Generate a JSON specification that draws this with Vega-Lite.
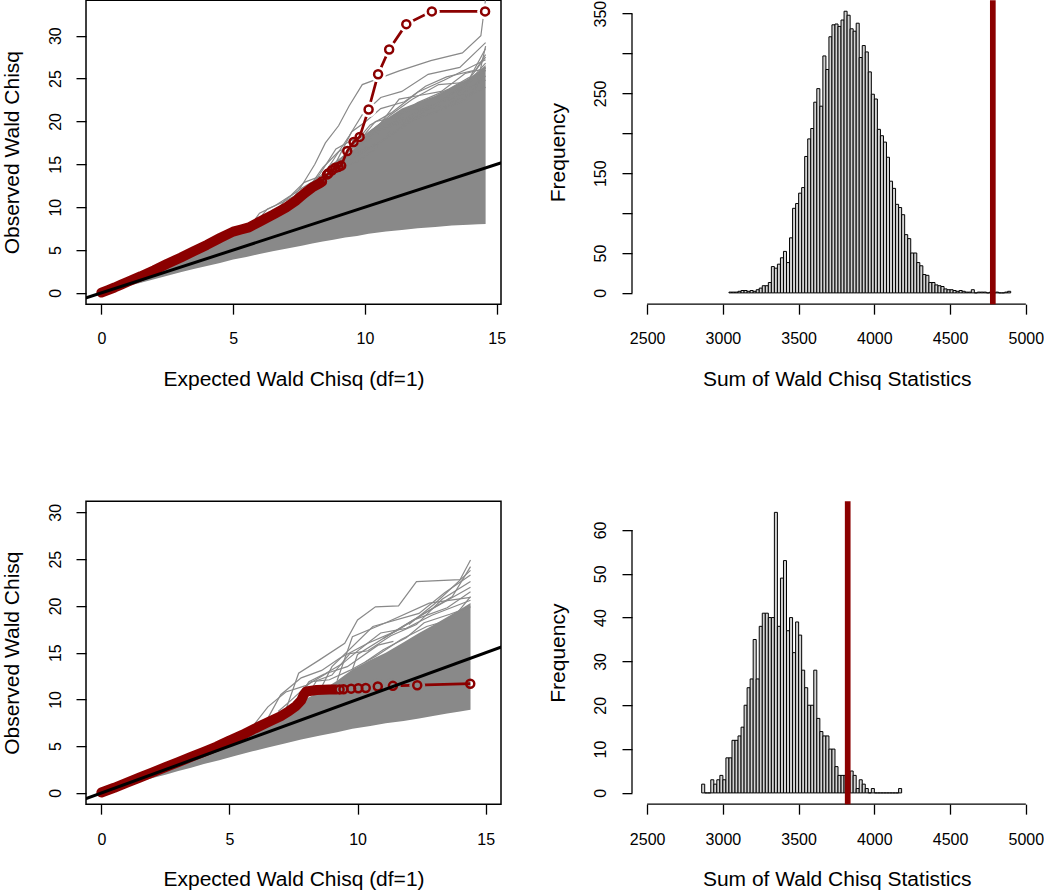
{
  "$schema": "https://vega.github.io/schema/vega-lite/v6.json",
  "background": "white",
  "padding": {"left": 0, "top": -2.85, "right": 0, "bottom": 0},
  "autosize": {"type": "pad"},
  "columns": 2,
  "spacing": {"row": 197, "column": 131},
  "bounds": "flush",
  "config": {
    "font": "Liberation Sans",
    "view": {"stroke": null},
    "axis": {
      "labelFont": "Liberation Sans", "titleFont": "Liberation Sans",
      "labelFontSize": 16, "titleFontSize": 21, "titleFontWeight": "normal",
      "labelColor": "black", "titleColor": "black",
      "tickColor": "black", "tickWidth": 1.3, "tickSize": 10,
      "grid": false, "domain": false, "labelFlush": false, "labelOverlap": false,
      "labelBaseline": "alphabetic", "titleBaseline": "alphabetic", "titleAlign": "center"
    }
  },
  "datasets": {
    "diag": [{"x": -2, "y": -2}, {"x": 17, "y": 17}],
    "tl_band": [
      {"x":0,"y":0,"y2":0},{"x":0.5,"y":0.4,"y2":0.65},{"x":1,"y":0.8,"y2":1.3},{"x":1.5,"y":1.2,"y2":1.95},
      {"x":2,"y":1.6,"y2":2.6},{"x":2.5,"y":2.0,"y2":3.2},{"x":3,"y":2.4,"y2":3.85},{"x":3.5,"y":2.8,"y2":4.5},
      {"x":4,"y":3.15,"y2":5.2},{"x":4.5,"y":3.5,"y2":6.0},{"x":5,"y":3.9,"y2":6.8},{"x":5.5,"y":4.2,"y2":7.5},
      {"x":6,"y":4.55,"y2":8.3},{"x":6.5,"y":4.85,"y2":9.1},{"x":7,"y":5.15,"y2":9.9},{"x":7.6,"y":5.5,"y2":10.9},
      {"x":8,"y":5.75,"y2":12.0},{"x":8.4,"y":6.0,"y2":13.2},{"x":8.8,"y":6.2,"y2":14.5},{"x":9.25,"y":6.45,"y2":15.8},
      {"x":9.7,"y":6.65,"y2":17.2},{"x":10.14,"y":6.9,"y2":18.8},{"x":10.8,"y":7.15,"y2":20.3},{"x":11.4,"y":7.35,"y2":21.5},
      {"x":12,"y":7.55,"y2":22.2},{"x":12.67,"y":7.7,"y2":23.0},{"x":13.3,"y":7.85,"y2":24.0},{"x":13.93,"y":7.95,"y2":25.0},
      {"x":14.3,"y":8.0,"y2":25.8},{"x":14.58,"y":8.05,"y2":26.6}
    ],
    "tl_sim": [
      {"id":"L1","x":7.0,"y":9.8},{"id":"L1","x":7.6,"y":12.5},{"id":"L1","x":8.1,"y":15.0},{"id":"L1","x":8.5,"y":17.5},{"id":"L1","x":9.0,"y":19.5},{"id":"L1","x":9.4,"y":21.8},{"id":"L1","x":9.9,"y":24.3},{"id":"L1","x":11.3,"y":25.9},{"id":"L1","x":12.5,"y":27.1},{"id":"L1","x":13.7,"y":28.0},{"id":"L1","x":14.4,"y":30.0},{"id":"L1","x":14.58,"y":34.3},
      {"id":"L2","x":8.0,"y":11.8},{"id":"L2","x":8.8,"y":15.5},{"id":"L2","x":9.4,"y":18.3},{"id":"L2","x":9.9,"y":20.8},{"id":"L2","x":10.6,"y":22.8},{"id":"L2","x":11.4,"y":23.5},{"id":"L2","x":12.4,"y":25.5},{"id":"L2","x":13.6,"y":26.3},{"id":"L2","x":14.58,"y":29.2},
      {"id":"L3","x":8.6,"y":13.5},{"id":"L3","x":9.2,"y":16.0},{"id":"L3","x":9.8,"y":17.8},{"id":"L3","x":10.4,"y":20.0},{"id":"L3","x":11.2,"y":20.5},{"id":"L3","x":12.0,"y":22.2},{"id":"L3","x":13.2,"y":23.8},{"id":"L3","x":14.0,"y":25.2},{"id":"L3","x":14.58,"y":28.5},
      {"id":"L4","x":8.0,"y":12.0},{"id":"L4","x":8.5,"y":14.2},{"id":"L4","x":9.0,"y":15.5},{"id":"L4","x":9.6,"y":17.0},{"id":"L4","x":10.5,"y":18.5},{"id":"L4","x":11.6,"y":21.2},{"id":"L4","x":12.7,"y":22.0},{"id":"L4","x":13.8,"y":24.3},{"id":"L4","x":14.58,"y":27.5},
      {"id":"L5","x":6.5,"y":9.1},{"id":"L5","x":7.0,"y":10.9},{"id":"L5","x":7.6,"y":12.2},{"id":"L5","x":8.2,"y":13.3},{"id":"L5","x":8.8,"y":14.0},{"id":"L5","x":9.3,"y":15.4},{"id":"L5","x":9.8,"y":16.2},{"id":"L5","x":10.8,"y":18.0},{"id":"L5","x":11.9,"y":20.3},{"id":"L5","x":13.0,"y":21.5},{"id":"L5","x":14.58,"y":25.3},
      {"id":"L6","x":9.6,"y":17.0},{"id":"L6","x":10.0,"y":18.0},{"id":"L6","x":11.0,"y":19.8},{"id":"L6","x":12.2,"y":21.4},{"id":"L6","x":13.4,"y":22.8},{"id":"L6","x":14.58,"y":26.8},
      {"id":"L7","x":5.6,"y":7.6},{"id":"L7","x":6.0,"y":9.3},{"id":"L7","x":6.6,"y":10.2},{"id":"L7","x":7.2,"y":11.4},{"id":"L7","x":7.7,"y":12.9},{"id":"L7","x":8.3,"y":13.6},{"id":"L7","x":8.9,"y":15.0},{"id":"L7","x":9.5,"y":16.2},{"id":"L7","x":10.0,"y":16.5},
      {"id":"L8","x":5.8,"y":8.0},{"id":"L8","x":6.3,"y":9.8},{"id":"L8","x":6.9,"y":10.6},{"id":"L8","x":7.5,"y":11.6},{"id":"L8","x":8.0,"y":12.1},{"id":"L8","x":8.6,"y":13.1},{"id":"L8","x":9.1,"y":14.6},{"id":"L8","x":9.7,"y":15.3},{"id":"L8","x":10.4,"y":16.8},{"id":"L8","x":11.0,"y":19.0},
      {"id":"L9","x":11.0,"y":19.5},{"id":"L9","x":11.5,"y":19.8},{"id":"L9","x":12.5,"y":21.6},{"id":"L9","x":13.5,"y":23.5},{"id":"L9","x":14.58,"y":24.8},
      {"id":"L10","x":10.2,"y":18.8},{"id":"L10","x":10.8,"y":19.2},{"id":"L10","x":12.0,"y":20.8},{"id":"L10","x":13.0,"y":22.6},{"id":"L10","x":14.0,"y":23.2},{"id":"L10","x":14.58,"y":26.0},
      {"id":"L11","x":11.4,"y":21.3},{"id":"L11","x":12.0,"y":21.3},{"id":"L11","x":13.2,"y":21.9},{"id":"L11","x":14.2,"y":23.6},{"id":"L11","x":14.58,"y":28.8},
      {"id":"L12","x":6.8,"y":9.8},{"id":"L12","x":7.3,"y":11.2},{"id":"L12","x":7.9,"y":12.4},{"id":"L12","x":8.4,"y":14.6},{"id":"L12","x":9.0,"y":16.5},{"id":"L12","x":9.6,"y":17.4},{"id":"L12","x":10.2,"y":19.6},{"id":"L12","x":11.0,"y":21.0},{"id":"L12","x":12.0,"y":23.4},{"id":"L12","x":13.0,"y":24.8},{"id":"L12","x":14.58,"y":27.2},
      {"id":"L13","x":7.2,"y":10.4},{"id":"L13","x":7.8,"y":11.7},{"id":"L13","x":8.3,"y":13.9},{"id":"L13","x":8.9,"y":16.8},{"id":"L13","x":9.5,"y":17.8},{"id":"L13","x":10.1,"y":18.5},{"id":"L13","x":10.9,"y":20.6},{"id":"L13","x":11.8,"y":22.6},{"id":"L13","x":12.8,"y":24.3},{"id":"L13","x":14.0,"y":24.6},{"id":"L13","x":14.58,"y":26.3},
      {"id":"L14","x":8.9,"y":15.2},{"id":"L14","x":9.5,"y":18.8},{"id":"L14","x":10.0,"y":19.9},{"id":"L14","x":10.6,"y":21.5},{"id":"L14","x":11.5,"y":22.3},{"id":"L14","x":12.3,"y":24.1},{"id":"L14","x":13.1,"y":25.2},{"id":"L14","x":14.2,"y":26.0},{"id":"L14","x":14.58,"y":27.8},
      {"id":"L15","x":9.9,"y":18.2},{"id":"L15","x":10.6,"y":19.8},{"id":"L15","x":11.3,"y":22.6},{"id":"L15","x":12.0,"y":23.0},{"id":"L15","x":12.9,"y":23.5},{"id":"L15","x":13.8,"y":25.6},{"id":"L15","x":14.58,"y":26.2},
      {"id":"L16","x":7.8,"y":11.2},{"id":"L16","x":8.2,"y":12.8},{"id":"L16","x":8.7,"y":14.9},{"id":"L16","x":9.3,"y":16.0},{"id":"L16","x":9.9,"y":16.8},{"id":"L16","x":10.6,"y":17.6},{"id":"L16","x":11.6,"y":20.0},{"id":"L16","x":12.6,"y":21.0},{"id":"L16","x":13.6,"y":22.2},{"id":"L16","x":14.58,"y":24.0}
    ],
    "tl_obs_band": [
      {"x":0,"y":0.04},{"x":0.25,"y":0.33},{"x":0.5,"y":0.63},{"x":0.75,"y":0.96},{"x":1,"y":1.3},{"x":1.5,"y":1.95},
      {"x":2,"y":2.65},{"x":2.5,"y":3.4},{"x":3,"y":4.1},{"x":3.5,"y":4.85},{"x":4,"y":5.6},{"x":4.5,"y":6.4},
      {"x":5,"y":7.15},{"x":5.3,"y":7.4},{"x":5.6,"y":7.65},{"x":6,"y":8.3},{"x":6.5,"y":9.1},{"x":7,"y":9.95},
      {"x":7.4,"y":10.8},{"x":7.7,"y":11.6},{"x":8.0,"y":12.3},{"x":8.3,"y":12.8}
    ],
    "tl_obs": [
      {"x":8.37,"y":13.0,"w":0},{"x":8.56,"y":13.8,"w":0},{"x":8.62,"y":13.95,"w":0},{"x":8.75,"y":14.3,"w":0},
      {"x":8.88,"y":14.6,"w":0},{"x":9.0,"y":14.7,"w":0},{"x":9.1,"y":14.85,"w":0},{"x":9.33,"y":16.55,"w":0},
      {"x":9.57,"y":17.6,"w":0},{"x":9.8,"y":18.2,"w":0},{"x":10.14,"y":21.4,"w":1},{"x":10.5,"y":25.5,"w":1},
      {"x":10.92,"y":28.4,"w":1},{"x":11.57,"y":31.35,"w":1},{"x":12.54,"y":32.84,"w":1},{"x":14.56,"y":32.84,"w":1}
    ],
    "bl_band": [
      {"x":0,"y":0,"y2":0},{"x":0.5,"y":0.4,"y2":0.6},{"x":1,"y":0.8,"y2":1.2},{"x":1.5,"y":1.2,"y2":1.8},
      {"x":2,"y":1.6,"y2":2.4},{"x":2.5,"y":1.95,"y2":3.0},{"x":3,"y":2.35,"y2":3.55},{"x":3.5,"y":2.7,"y2":4.1},
      {"x":4,"y":3.1,"y2":4.65},{"x":4.6,"y":3.5,"y2":5.3},{"x":5.2,"y":3.95,"y2":6.15},{"x":5.9,"y":4.45,"y2":7.1},
      {"x":6.5,"y":4.85,"y2":8.0},{"x":7.2,"y":5.3,"y2":8.9},{"x":7.8,"y":5.7,"y2":9.8},{"x":8.5,"y":6.1,"y2":10.8},
      {"x":9.2,"y":6.5,"y2":12.0},{"x":9.8,"y":6.85,"y2":13.2},{"x":10.5,"y":7.15,"y2":14.2},{"x":11.1,"y":7.45,"y2":15.0},
      {"x":11.8,"y":7.7,"y2":16.1},{"x":12.4,"y":7.95,"y2":17.1},{"x":13.0,"y":8.25,"y2":18.0},{"x":13.5,"y":8.5,"y2":18.8},
      {"x":14.0,"y":8.7,"y2":19.6},{"x":14.41,"y":8.9,"y2":20.3}
    ],
    "bl_sim": [
      {"id":"a","x":7.2,"y":8.9},{"id":"a","x":7.7,"y":12.8},{"id":"a","x":8.5,"y":14.2},{"id":"a","x":9.5,"y":16.0},{"id":"a","x":10.0,"y":18.5},{"id":"a","x":10.7,"y":19.9},{"id":"a","x":11.6,"y":20.0},{"id":"a","x":12.3,"y":22.6},{"id":"a","x":14.0,"y":22.8},{"id":"a","x":14.41,"y":24.9},
      {"id":"b","x":8.5,"y":10.8},{"id":"b","x":9.0,"y":13.5},{"id":"b","x":10.6,"y":17.8},{"id":"b","x":12.4,"y":19.2},{"id":"b","x":13.4,"y":21.4},{"id":"b","x":14.41,"y":23.3},
      {"id":"c","x":9.2,"y":12.0},{"id":"c","x":9.8,"y":16.7},{"id":"c","x":11.1,"y":18.2},{"id":"c","x":12.8,"y":20.3},{"id":"c","x":14.41,"y":20.9},
      {"id":"d","x":9.8,"y":13.2},{"id":"d","x":10.0,"y":14.8},{"id":"d","x":11.75,"y":17.8},{"id":"d","x":13.7,"y":21.0},{"id":"d","x":14.41,"y":24.2},
      {"id":"e","x":6.5,"y":8.0},{"id":"e","x":7.0,"y":10.5},{"id":"e","x":7.8,"y":12.3},{"id":"e","x":8.6,"y":13.1},{"id":"e","x":9.3,"y":14.4},{"id":"e","x":10.4,"y":16.0},{"id":"e","x":11.5,"y":17.3},{"id":"e","x":12.8,"y":19.5},{"id":"e","x":14.41,"y":22.0},
      {"id":"f","x":5.9,"y":7.1},{"id":"f","x":6.5,"y":9.2},{"id":"f","x":7.2,"y":10.8},{"id":"f","x":8.0,"y":11.5},{"id":"f","x":8.8,"y":12.8},{"id":"f","x":9.6,"y":13.5},{"id":"f","x":10.8,"y":15.8},{"id":"f","x":11.4,"y":16.2},
      {"id":"g","x":11.0,"y":16.5},{"id":"g","x":12.2,"y":18.5},{"id":"g","x":13.5,"y":19.8},{"id":"g","x":14.41,"y":21.5},
      {"id":"h","x":12.0,"y":18.0},{"id":"h","x":13.0,"y":20.2},{"id":"h","x":14.41,"y":23.8},
      {"id":"i","x":7.5,"y":9.3},{"id":"i","x":8.1,"y":11.9},{"id":"i","x":8.7,"y":12.7},{"id":"i","x":9.4,"y":13.8},{"id":"i","x":10.1,"y":15.4},{"id":"i","x":10.9,"y":17.1},{"id":"i","x":11.9,"y":17.6},{"id":"i","x":12.9,"y":19.0},{"id":"i","x":14.41,"y":20.6},
      {"id":"j","x":8.0,"y":10.2},{"id":"j","x":8.4,"y":12.0},{"id":"j","x":9.0,"y":12.6},{"id":"j","x":9.7,"y":14.9},{"id":"j","x":10.4,"y":15.2},{"id":"j","x":11.3,"y":16.8},{"id":"j","x":12.3,"y":18.0},{"id":"j","x":13.3,"y":20.7},{"id":"j","x":14.41,"y":22.6},
      {"id":"k","x":10.3,"y":14.0},{"id":"k","x":11.0,"y":15.3},{"id":"k","x":11.9,"y":16.6},{"id":"k","x":12.6,"y":18.2},{"id":"k","x":13.6,"y":19.1},{"id":"k","x":14.41,"y":19.9},
      {"id":"l","x":6.9,"y":8.7},{"id":"l","x":7.4,"y":9.9},{"id":"l","x":8.2,"y":11.9},{"id":"l","x":8.9,"y":12.1},{"id":"l","x":9.7,"y":13.1},{"id":"l","x":10.7,"y":14.6},{"id":"l","x":11.7,"y":16.4},{"id":"l","x":12.7,"y":17.8},{"id":"l","x":13.7,"y":18.6},{"id":"l","x":14.41,"y":21.0}
    ],
    "bl_obs_band": [
      {"x":0,"y":0.04},{"x":0.5,"y":0.55},{"x":1,"y":1.1},{"x":1.5,"y":1.65},{"x":2,"y":2.2},{"x":2.5,"y":2.75},
      {"x":3,"y":3.3},{"x":3.5,"y":3.85},{"x":4,"y":4.4},{"x":4.5,"y":4.95},{"x":5,"y":5.6},{"x":5.5,"y":6.2},
      {"x":6,"y":6.9},{"x":6.5,"y":7.55},{"x":7,"y":8.2},{"x":7.3,"y":8.7},{"x":7.6,"y":9.3},{"x":7.8,"y":9.9},
      {"x":7.9,"y":10.5},{"x":8.0,"y":10.85},{"x":8.4,"y":11.0},{"x":8.9,"y":11.05},{"x":9.3,"y":11.07}
    ],
    "bl_obs": [
      {"x":9.3,"y":11.07,"w":0},{"x":9.45,"y":11.08,"w":2},{"x":9.75,"y":11.15,"w":2},{"x":10.03,"y":11.2,"w":2},
      {"x":10.32,"y":11.22,"w":2},{"x":10.79,"y":11.38,"w":2},{"x":11.38,"y":11.45,"w":2},{"x":12.33,"y":11.52,"w":2},
      {"x":14.4,"y":11.68,"w":0}
    ],
    "tr_hist": [
      {"b0":3040,"b1":3060,"n":1},{"b0":3060,"b1":3080,"n":1},{"b0":3080,"b1":3100,"n":1},{"b0":3100,"b1":3120,"n":2},
      {"b0":3120,"b1":3140,"n":3},{"b0":3140,"b1":3160,"n":3},{"b0":3160,"b1":3180,"n":2},{"b0":3180,"b1":3200,"n":3},
      {"b0":3200,"b1":3220,"n":2},{"b0":3220,"b1":3240,"n":4},{"b0":3240,"b1":3260,"n":6},{"b0":3260,"b1":3280,"n":9},
      {"b0":3280,"b1":3300,"n":9},{"b0":3300,"b1":3320,"n":13},{"b0":3320,"b1":3340,"n":33},{"b0":3340,"b1":3360,"n":31},
      {"b0":3360,"b1":3380,"n":36},{"b0":3380,"b1":3400,"n":44},{"b0":3400,"b1":3420,"n":52},{"b0":3420,"b1":3440,"n":38},
      {"b0":3440,"b1":3460,"n":69},{"b0":3460,"b1":3480,"n":106},{"b0":3480,"b1":3500,"n":112},{"b0":3500,"b1":3520,"n":125},
      {"b0":3520,"b1":3540,"n":132},{"b0":3540,"b1":3560,"n":171},{"b0":3560,"b1":3580,"n":193},{"b0":3580,"b1":3600,"n":206},
      {"b0":3600,"b1":3620,"n":239},{"b0":3620,"b1":3640,"n":256},{"b0":3640,"b1":3660,"n":234},{"b0":3660,"b1":3680,"n":297},
      {"b0":3680,"b1":3700,"n":280},{"b0":3700,"b1":3720,"n":321},{"b0":3720,"b1":3740,"n":336},{"b0":3740,"b1":3760,"n":337},
      {"b0":3760,"b1":3780,"n":334},{"b0":3780,"b1":3800,"n":342},{"b0":3800,"b1":3820,"n":353},{"b0":3820,"b1":3840,"n":348},
      {"b0":3840,"b1":3860,"n":331},{"b0":3860,"b1":3880,"n":328},{"b0":3880,"b1":3900,"n":338},{"b0":3900,"b1":3920,"n":295},
      {"b0":3920,"b1":3940,"n":310},{"b0":3940,"b1":3960,"n":302},{"b0":3960,"b1":3980,"n":277},{"b0":3980,"b1":4000,"n":249},
      {"b0":4000,"b1":4020,"n":243},{"b0":4020,"b1":4040,"n":205},{"b0":4040,"b1":4060,"n":197},{"b0":4060,"b1":4080,"n":189},
      {"b0":4080,"b1":4100,"n":170},{"b0":4100,"b1":4120,"n":140},{"b0":4120,"b1":4140,"n":131},{"b0":4140,"b1":4160,"n":111},
      {"b0":4160,"b1":4180,"n":107},{"b0":4180,"b1":4200,"n":98},{"b0":4200,"b1":4220,"n":73},{"b0":4220,"b1":4240,"n":68},
      {"b0":4240,"b1":4260,"n":50},{"b0":4260,"b1":4280,"n":50},{"b0":4280,"b1":4300,"n":38},{"b0":4300,"b1":4320,"n":34},
      {"b0":4320,"b1":4340,"n":23},{"b0":4340,"b1":4360,"n":22},{"b0":4360,"b1":4380,"n":13},{"b0":4380,"b1":4400,"n":13},
      {"b0":4400,"b1":4420,"n":10},{"b0":4420,"b1":4440,"n":9},{"b0":4440,"b1":4460,"n":8},{"b0":4460,"b1":4480,"n":5},
      {"b0":4480,"b1":4500,"n":4},{"b0":4500,"b1":4520,"n":4},{"b0":4520,"b1":4540,"n":3},{"b0":4540,"b1":4560,"n":2},
      {"b0":4560,"b1":4580,"n":3},{"b0":4580,"b1":4600,"n":2},{"b0":4600,"b1":4620,"n":1},{"b0":4620,"b1":4640,"n":1},
      {"b0":4640,"b1":4660,"n":4},{"b0":4660,"b1":4680,"n":0},{"b0":4680,"b1":4700,"n":1},{"b0":4700,"b1":4720,"n":1},
      {"b0":4720,"b1":4740,"n":1},{"b0":4740,"b1":4760,"n":0},{"b0":4760,"b1":4780,"n":1},{"b0":4780,"b1":4800,"n":0},
      {"b0":4800,"b1":4820,"n":1},{"b0":4820,"b1":4840,"n":0},{"b0":4840,"b1":4860,"n":0},{"b0":4860,"b1":4880,"n":1},
      {"b0":4880,"b1":4900,"n":2}
    ],
    "br_hist": [
      {"b0":2860,"b1":2880,"n":2},{"b0":2880,"b1":2900,"n":0},{"b0":2900,"b1":2920,"n":0},{"b0":2920,"b1":2940,"n":3},
      {"b0":2940,"b1":2960,"n":2},{"b0":2960,"b1":2980,"n":3},{"b0":2980,"b1":3000,"n":4},{"b0":3000,"b1":3020,"n":3},
      {"b0":3020,"b1":3040,"n":8},{"b0":3040,"b1":3060,"n":8},{"b0":3060,"b1":3080,"n":12},{"b0":3080,"b1":3100,"n":12},
      {"b0":3100,"b1":3120,"n":13},{"b0":3120,"b1":3140,"n":15},{"b0":3140,"b1":3160,"n":20},{"b0":3160,"b1":3180,"n":24},
      {"b0":3180,"b1":3200,"n":26},{"b0":3200,"b1":3220,"n":35},{"b0":3220,"b1":3240,"n":26},{"b0":3240,"b1":3260,"n":38},
      {"b0":3260,"b1":3280,"n":41},{"b0":3280,"b1":3300,"n":41},{"b0":3300,"b1":3320,"n":40},{"b0":3320,"b1":3340,"n":40},
      {"b0":3340,"b1":3360,"n":64},{"b0":3360,"b1":3380,"n":38},{"b0":3380,"b1":3400,"n":49},{"b0":3400,"b1":3420,"n":53},
      {"b0":3420,"b1":3440,"n":37},{"b0":3440,"b1":3460,"n":40},{"b0":3460,"b1":3480,"n":32},{"b0":3480,"b1":3500,"n":39},
      {"b0":3500,"b1":3520,"n":36},{"b0":3520,"b1":3540,"n":28},{"b0":3540,"b1":3560,"n":24},{"b0":3560,"b1":3580,"n":20},
      {"b0":3580,"b1":3600,"n":20},{"b0":3600,"b1":3620,"n":28},{"b0":3620,"b1":3640,"n":17},{"b0":3640,"b1":3660,"n":14},
      {"b0":3660,"b1":3680,"n":13},{"b0":3680,"b1":3700,"n":13},{"b0":3700,"b1":3720,"n":10},{"b0":3720,"b1":3740,"n":10},
      {"b0":3740,"b1":3760,"n":6},{"b0":3760,"b1":3780,"n":4},{"b0":3780,"b1":3800,"n":4},{"b0":3800,"b1":3820,"n":4},
      {"b0":3820,"b1":3840,"n":4},{"b0":3840,"b1":3860,"n":5},{"b0":3860,"b1":3880,"n":4},{"b0":3880,"b1":3900,"n":1},
      {"b0":3900,"b1":3920,"n":3},{"b0":3920,"b1":3940,"n":2},{"b0":3940,"b1":3960,"n":1},{"b0":3960,"b1":3980,"n":0},
      {"b0":3980,"b1":4000,"n":1},{"b0":4000,"b1":4020,"n":0},{"b0":4020,"b1":4040,"n":0},{"b0":4040,"b1":4060,"n":0},
      {"b0":4060,"b1":4080,"n":0},{"b0":4080,"b1":4100,"n":0},{"b0":4100,"b1":4120,"n":0},{"b0":4120,"b1":4140,"n":0},
      {"b0":4140,"b1":4160,"n":0},{"b0":4160,"b1":4180,"n":1}
    ],
    "tr_obs": [{"obs": 4782}],
    "br_obs": [{"obs": 3824}],
    "one": [{}]
  },
  "concat": [
    {
      "width": 415, "height": 304,
      "view": {"stroke": "black", "strokeWidth": 1.5},
      "encoding": {
        "x": {"field": "x", "type": "quantitative",
          "scale": {"domain": [-0.584, 15.164], "nice": false, "zero": false},
          "axis": {"values": [0, 5, 10, 15], "title": "Expected Wald Chisq (df=1)", "labelPadding": 29.3, "titleX": 207.5, "titleY": 81}},
        "y": {"field": "y", "type": "quantitative",
          "scale": {"domain": [-1.31, 34.15], "nice": false, "zero": false},
          "axis": {"values": [0, 5, 10, 15, 20, 25, 30], "title": "Observed Wald Chisq", "labelAngle": 270, "labelAlign": "center", "labelPadding": 15.7, "titleAngle": 270, "titleX": -67.3, "titleY": 152}}
      },
      "layer": [
        {"data": {"name": "tl_band"}, "mark": {"type": "area", "color": "#898989", "clip": true}, "encoding": {"y2": {"field": "y2"}}},
        {"data": {"name": "tl_sim"}, "mark": {"type": "line", "color": "#898989", "strokeWidth": 1.2, "clip": true}, "encoding": {"detail": {"field": "id"}}},
        {"data": {"name": "tl_obs_band"}, "mark": {"type": "line", "color": "#8b0000", "strokeWidth": 10, "strokeCap": "round", "strokeJoin": "round", "clip": true}, "encoding": {}},
        {"data": {"name": "tl_obs"}, "mark": {"type": "line", "color": "#8b0000", "strokeWidth": 2.7, "clip": true}, "encoding": {}},
        {"data": {"name": "tl_obs"}, "transform": [{"filter": "datum.w == 1"}], "mark": {"type": "circle", "color": "white", "size": 250, "opacity": 1, "clip": true}, "encoding": {}},
        {"data": {"name": "tl_obs"}, "mark": {"type": "point", "shape": "circle", "filled": false, "color": "#8b0000", "size": 64, "strokeWidth": 2.5, "opacity": 1, "clip": true}, "encoding": {}},
        {"data": {"name": "diag"}, "mark": {"type": "line", "color": "black", "strokeWidth": 3, "clip": true}, "encoding": {}}
      ]
    },
    {
      "width": 409, "height": 304,
      "layer": [
        {"data": {"name": "tr_hist"}, "mark": {"type": "rect", "fill": "#d3d3d3", "stroke": "black", "strokeWidth": 1},
          "encoding": {
            "x": {"field": "b0", "type": "quantitative",
              "scale": {"domain": [2400, 5100], "nice": false, "zero": false},
              "axis": {"values": [2500, 3000, 3500, 4000, 4500, 5000], "format": "d", "title": "Sum of Wald Chisq Statistics", "labelPadding": 29.3, "titleX": 204.7, "titleY": 81}},
            "x2": {"field": "b1"},
            "y": {"field": "n", "type": "quantitative",
              "scale": {"domain": [-14.1, 366.9], "nice": false, "zero": false},
              "axis": {"values": [0, 50, 100, 150, 200, 250, 300, 350], "labelExpr": "datum.value == 0 || datum.value % 100 == 50 ? datum.label : ''", "title": "Frequency", "labelAngle": 270, "labelAlign": "center", "labelPadding": 16.7, "titleAngle": 270, "titleX": -67.3, "titleY": 152}},
            "y2": {"datum": 0}
          }},
        {"data": {"name": "one"}, "mark": {"type": "rule", "color": "black", "strokeWidth": 1.3},
          "encoding": {"x": {"datum": 2500}, "x2": {"datum": 5000}, "y": {"datum": -14.1}}},
        {"data": {"name": "one"}, "mark": {"type": "rule", "color": "black", "strokeWidth": 1.3},
          "encoding": {"x": {"datum": 2400}, "y": {"datum": 0}, "y2": {"datum": 350}}},
        {"data": {"name": "tr_obs"}, "mark": {"type": "rule", "color": "#8b0000", "strokeWidth": 5.7},
          "encoding": {"x": {"field": "obs", "type": "quantitative"}}}
      ]
    },
    {
      "width": 415, "height": 303,
      "view": {"stroke": "black", "strokeWidth": 1.5},
      "encoding": {
        "x": {"field": "x", "type": "quantitative",
          "scale": {"domain": [-0.6, 15.6], "nice": false, "zero": false},
          "axis": {"values": [0, 5, 10, 15], "title": "Expected Wald Chisq (df=1)", "labelPadding": 30, "titleX": 207.5, "titleY": 81}},
        "y": {"field": "y", "type": "quantitative",
          "scale": {"domain": [-1.2, 31.2], "nice": false, "zero": false},
          "axis": {"values": [0, 5, 10, 15, 20, 25, 30], "title": "Observed Wald Chisq", "labelAngle": 270, "labelAlign": "center", "labelPadding": 15.7, "titleAngle": 270, "titleX": -67.3, "titleY": 151.5}}
      },
      "layer": [
        {"data": {"name": "bl_band"}, "mark": {"type": "area", "color": "#898989", "clip": true}, "encoding": {"y2": {"field": "y2"}}},
        {"data": {"name": "bl_sim"}, "mark": {"type": "line", "color": "#898989", "strokeWidth": 1.2, "clip": true}, "encoding": {"detail": {"field": "id"}}},
        {"data": {"name": "bl_obs_band"}, "mark": {"type": "line", "color": "#8b0000", "strokeWidth": 10, "strokeCap": "round", "strokeJoin": "round", "clip": true}, "encoding": {}},
        {"data": {"name": "bl_obs"}, "mark": {"type": "line", "color": "#8b0000", "strokeWidth": 2.7, "clip": true}, "encoding": {}},
        {"data": {"name": "bl_obs"}, "transform": [{"filter": "datum.w == 2"}], "mark": {"type": "circle", "color": "#898989", "size": 250, "opacity": 1, "clip": true}, "encoding": {}},
        {"data": {"name": "bl_obs"}, "mark": {"type": "point", "shape": "circle", "filled": false, "color": "#8b0000", "size": 64, "strokeWidth": 2.5, "opacity": 1, "clip": true}, "encoding": {}},
        {"data": {"name": "diag"}, "mark": {"type": "line", "color": "black", "strokeWidth": 3, "clip": true}, "encoding": {}}
      ]
    },
    {
      "width": 409, "height": 303,
      "layer": [
        {"data": {"name": "br_hist"}, "mark": {"type": "rect", "fill": "#d3d3d3", "stroke": "black", "strokeWidth": 1},
          "encoding": {
            "x": {"field": "b0", "type": "quantitative",
              "scale": {"domain": [2400, 5100], "nice": false, "zero": false},
              "axis": {"values": [2500, 3000, 3500, 4000, 4500, 5000], "format": "d", "title": "Sum of Wald Chisq Statistics", "labelPadding": 30, "titleX": 204.7, "titleY": 81}},
            "x2": {"field": "b1"},
            "y": {"field": "n", "type": "quantitative",
              "scale": {"domain": [-2.56, 66.56], "nice": false, "zero": false},
              "axis": {"values": [0, 10, 20, 30, 40, 50, 60], "title": "Frequency", "labelAngle": 270, "labelAlign": "center", "labelPadding": 16.7, "titleAngle": 270, "titleX": -67.3, "titleY": 151.5}},
            "y2": {"datum": 0}
          }},
        {"data": {"name": "one"}, "mark": {"type": "rule", "color": "black", "strokeWidth": 1.3},
          "encoding": {"x": {"datum": 2500}, "x2": {"datum": 5000}, "y": {"datum": -2.56}}},
        {"data": {"name": "one"}, "mark": {"type": "rule", "color": "black", "strokeWidth": 1.3},
          "encoding": {"x": {"datum": 2400}, "y": {"datum": 0}, "y2": {"datum": 60}}},
        {"data": {"name": "br_obs"}, "mark": {"type": "rule", "color": "#8b0000", "strokeWidth": 5.7},
          "encoding": {"x": {"field": "obs", "type": "quantitative"}}}
      ]
    }
  ]
}
